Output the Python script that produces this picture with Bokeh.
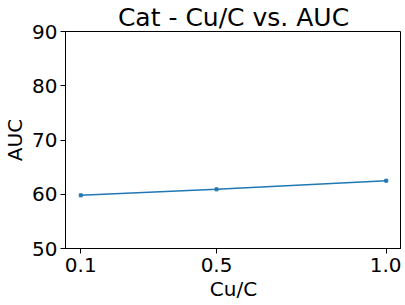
from bokeh.plotting import figure
from bokeh.models import FixedTicker, Range1d
from bokeh.embed import file_html
from bokeh.resources import INLINE

cu_c = [0.1, 0.5, 1.0]
auc = [59.8, 60.9, 62.5]
x_tick_labels = ["0.1", "0.5", "1.0"]
y_ticks = [50, 60, 70, 80, 90]

FONT = "DejaVu Sans"

p = figure(frame_width=336, frame_height=217, output_backend="svg", toolbar_location=None,
           x_range=Range1d(0.055, 1.045), y_range=Range1d(50, 90),
           min_border_left=50, min_border_right=0, min_border_top=20, min_border_bottom=50,
           title="Cat - Cu/C vs. AUC")
p.title.align = "center"
p.title.text_font = FONT
p.title.text_font_size = "25px"
p.title.text_font_style = "normal"
p.title.text_color = "black"
p.title.standoff = 0

p.xgrid.visible = False
p.ygrid.visible = False
p.outline_line_color = "black"
p.outline_line_width = 1
p.background_fill_color = "white"
p.border_fill_color = "white"

p.line(cu_c, auc, line_color="#1f77b4", line_width=1.5)
p.scatter(cu_c, auc, marker="square", size=3, color="#1f77b4")

p.xaxis.ticker = FixedTicker(ticks=cu_c)
p.xaxis.major_label_overrides = {v: s for v, s in zip(cu_c, x_tick_labels)}
p.yaxis.ticker = FixedTicker(ticks=y_ticks)

for ax in (p.xaxis[0], p.yaxis[0]):
    ax.major_label_text_font = FONT
    ax.major_label_text_font_size = "20px"
    ax.major_label_text_color = "black"
    ax.axis_label_text_font = FONT
    ax.axis_label_text_font_size = "20px"
    ax.axis_label_text_font_style = "normal"
    ax.axis_label_text_color = "black"
    ax.minor_tick_line_color = None
    ax.major_tick_out = 5
    ax.major_tick_in = 0
    ax.axis_line_color = "black"
    ax.major_tick_line_color = "black"

p.xaxis.axis_label = "Cu/C"
p.yaxis.axis_label = "AUC"
p.xaxis.major_label_standoff = 4
p.yaxis.major_label_standoff = 3
p.xaxis.axis_label_standoff = 2
p.yaxis.axis_label_standoff = 2

open("out.html", "w").write(file_html(p, INLINE))
